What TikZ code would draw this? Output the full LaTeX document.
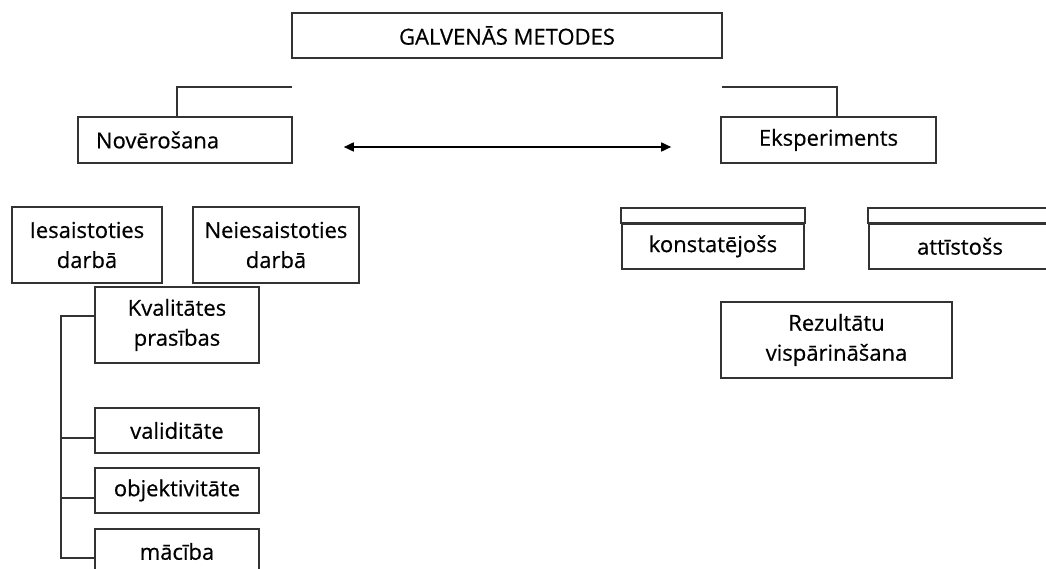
\documentclass[tikz,border=0pt]{standalone}
\usepackage{fontspec}
\setmainfont[FakeBold=0.5]{Open Sans}
\usetikzlibrary{arrows.meta}
\tikzset{
  box/.style={draw=black!80, line width=1.6pt, rectangle, inner sep=0pt, align=center,
    font=\fontsize{22}{30}\selectfont, text=black},
  conn/.style={draw=black!80, line width=1.6pt},
}
\begin{document}
\begin{tikzpicture}[x=1pt,y=-1pt]
\useasboundingbox (0,0) rectangle (1046,569);
\clip (0,0) rectangle (1046,569);
\node[box, minimum width=430, minimum height=45] (top) at (507,35.5) {GALVENĀS METODES};
\node[box, minimum height=46, text width=178, inner xsep=18pt, align=left] (nov) at (185,140) {Novērošana};
\node[box, minimum width=215, minimum height=46] (eks) at (828.5,140) {Eksperiments};
\coordinate (lc) at (292,87);
\coordinate (rc) at (722,87);
\draw[conn] (lc) -| ([xshift=-8pt]nov.north);
\draw[conn] (rc) -| ([xshift=8.5pt]eks.north);
\draw[conn, draw=black, {Triangle[length=10pt,width=9pt]}-{Triangle[length=10pt,width=9pt]}, shorten <=51pt, shorten >=49pt]
  ([yshift=-7pt]nov.east) -- ([yshift=-7pt]eks.west);

\node[box, minimum width=150, minimum height=76] (ies) at (87,245) {Iesaistoties\\darbā};
\node[box, minimum width=166, minimum height=76] (nei) at (276,245) {Neiesaistoties\\darbā};
\node[box, minimum width=164, minimum height=76] (kva) at (177,325) {Kvalitātes\\prasības};
\node[box, minimum width=164, minimum height=45] (val) at (177,430.5) {validitāte};
\node[box, minimum width=164, minimum height=45] (obj) at (177,490.5) {objektivitāte};
\node[box, minimum width=164, minimum height=45] (mac) at (177,551.5) {mācība};
\coordinate (tt) at (61,316);
\coordinate (tb) at (61,558);
\draw[conn] ([yshift=9pt]kva.west) -- (tt) -- (tb) -- ([yshift=-6.5pt]mac.west);
\draw[conn] ([yshift=-7.5pt]val.west) -- ++(-34,0);
\draw[conn] ([yshift=-7.5pt]obj.west) -- ++(-34,0);

\node[box, minimum width=182, minimum height=45, anchor=north] (kon) at (713,223) {konstatējošs};
\draw[conn] (kon.north west) rectangle ([yshift=15pt]kon.north east);
\node[box, minimum width=182, minimum height=45, anchor=north] (att) at (960,223) {attīstošs};
\draw[conn] (att.north west) rectangle ([yshift=15pt]att.north east);

\node[box, minimum width=231, minimum height=76] (rez) at (836.5,340) {Rezultātu\\vispārināšana};
\end{tikzpicture}
\end{document}
